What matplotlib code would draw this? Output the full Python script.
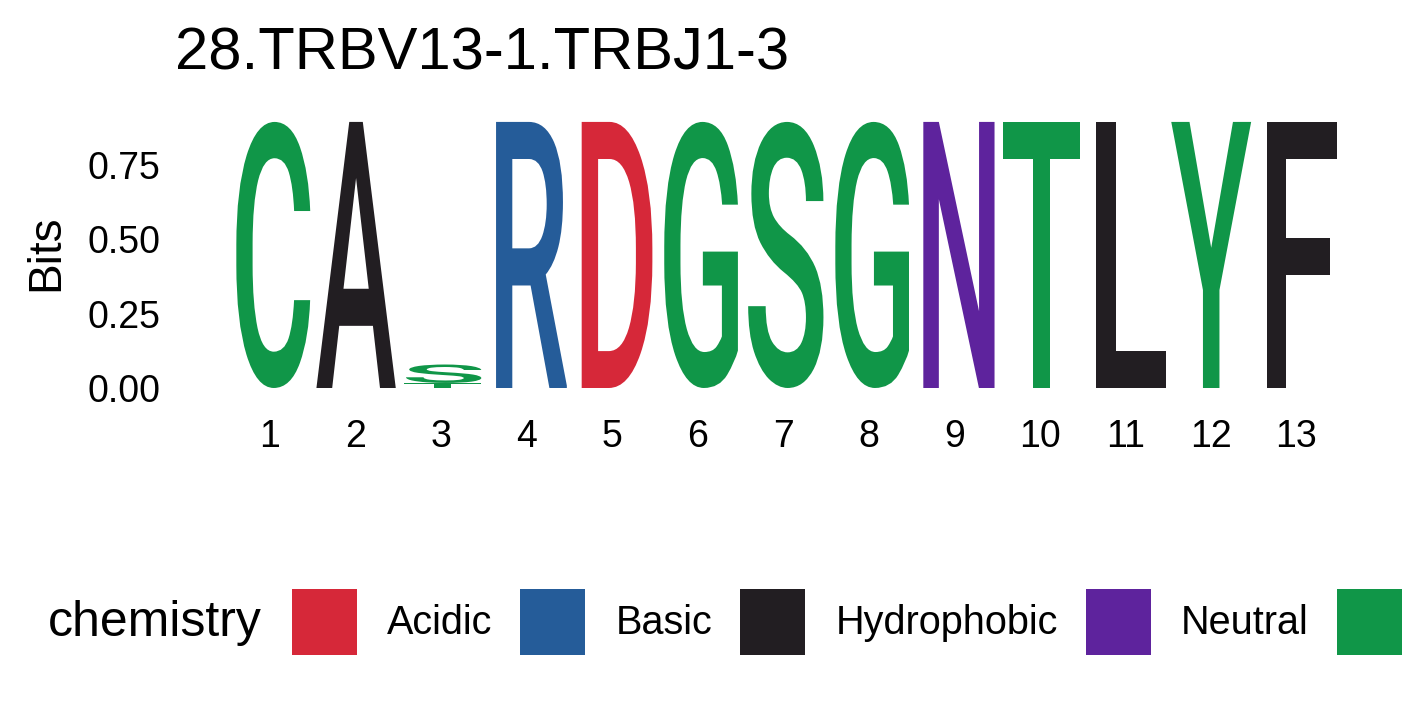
import matplotlib
matplotlib.use("Agg")
import matplotlib.pyplot as plt
from matplotlib.textpath import TextPath
from matplotlib.font_manager import FontProperties
from matplotlib.patches import PathPatch, Patch
from matplotlib.path import Path
import numpy as np

plt.rcParams['font.family'] = ['Liberation Sans', 'DejaVu Sans']

# ---- data ----
title = "28.TRBV13-1.TRBJ1-3"
positions = [1, 2, 3, 3, 4, 5, 6, 7, 8, 9, 10, 11, 12, 13]
letters = ['C', 'A', 'T', 'S', 'R', 'D', 'G', 'S', 'G', 'N', 'T', 'L', 'Y', 'F']
bits = [0.895, 0.895, 0.017, 0.062, 0.895, 0.895, 0.895, 0.895, 0.895,
        0.895, 0.895, 0.895, 0.895, 0.895]
xticks = list(range(1, 14))
yticks = [0.0, 0.25, 0.50, 0.75]
ytick_labels = ['0.00', '0.25', '0.50', '0.75']
categories = ['Acidic', 'Basic', 'Hydrophobic', 'Neutral', 'Polar']
cat_colors = ['#D62839', '#255C99', '#221E22', '#5E239D', '#109648']
chem = {'D': 'Acidic', 'E': 'Acidic',
        'K': 'Basic', 'R': 'Basic', 'H': 'Basic',
        'A': 'Hydrophobic', 'V': 'Hydrophobic', 'L': 'Hydrophobic', 'I': 'Hydrophobic',
        'P': 'Hydrophobic', 'W': 'Hydrophobic', 'F': 'Hydrophobic', 'M': 'Hydrophobic',
        'Q': 'Neutral', 'N': 'Neutral',
        'G': 'Polar', 'S': 'Polar', 'T': 'Polar', 'Y': 'Polar', 'C': 'Polar'}
col_of = dict(zip(categories, cat_colors))

W, H = 1417, 708
fig = plt.figure(figsize=(W / 100, H / 100), dpi=100)

ymax = 0.9
px_per_unit = 297.3
left_px, right_px = 227.25, 1339.25
zero_px = 388
ax = fig.add_axes([left_px / W, (H - zero_px) / H,
                   (right_px - left_px) / W, ymax * px_per_unit / H])
ax.set_xlim(0.5, 13.5)
ax.set_ylim(0, ymax)

glyph_prop = FontProperties(family='Roboto', weight='medium')
letter_width = 0.94

stack = {}
for p, l, b in zip(positions, letters, bits):
    y0 = stack.get(p, 0.0)
    tp = TextPath((0, 0), l, size=1, prop=glyph_prop)
    verts = tp.vertices.copy()
    xmin, ymin = verts.min(axis=0)
    xmax, ymx = verts.max(axis=0)
    verts[:, 0] = (verts[:, 0] - xmin) / (xmax - xmin) * letter_width + (p - letter_width / 2)
    verts[:, 1] = (verts[:, 1] - ymin) / (ymx - ymin) * b + y0
    path = Path(verts, tp.codes)
    ax.add_patch(PathPatch(path, facecolor=col_of[chem[l]], edgecolor='none', lw=0))
    stack[p] = y0 + b

for s in ax.spines.values():
    s.set_visible(False)
ax.set_xticks(xticks)
ax.set_xticklabels([str(x) for x in xticks])
ax.set_yticks(yticks)
ax.set_yticklabels(ytick_labels)
ax.tick_params(axis='both', length=0, labelsize=27, colors='black')
ax.tick_params(axis='y', pad=48)
ax.tick_params(axis='x', pad=22)

fig.text(175 / W, 1 - 70 / H, title, fontsize=43, ha='left', va='baseline')
fig.text(46 / W, 1 - 253 / H, 'Bits', fontsize=33, rotation=90, ha='center', va='center')

fig.text(48 / W, 1 - 623 / H, 'chemistry', fontsize=36, ha='left', va='center')
handles = [Patch(facecolor=c, edgecolor='none') for c in cat_colors]
fig.legend(handles, categories, ncol=5, loc='center left',
           bbox_to_anchor=(292 / W, 1 - 622 / H), frameon=False, fontsize=28.5,
           handlelength=1.64, handleheight=2.19, handletextpad=0.76,
           columnspacing=0.71, borderpad=0, borderaxespad=0)

fig.savefig('out.png', dpi=100)
